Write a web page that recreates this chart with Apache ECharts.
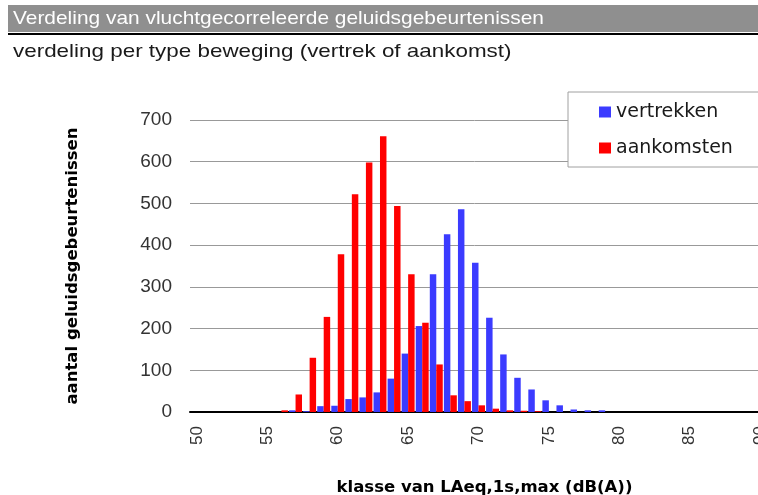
<!DOCTYPE html>
<html>
<head>
<meta charset="utf-8">
<script src="https://cdn.jsdelivr.net/npm/echarts@6/dist/echarts.min.js"></script>
<style>
html,body{margin:0;padding:0;background:#fff;}
#chart{width:758px;height:495px;}
</style>
</head>
<body>
<div id="chart"></div>
<script>
var categories = ['50','51','52','53','54','55','56','57','58','59','60','61','62','63','64','65','66','67','68','69','70','71','72','73','74','75','76','77','78','79','80','81','82','83','84','85','86','87','88','89','90'];
var vertrekken = [0,0,0,0,0,0,0,4,2,14,15,31,35,47,80,140,206,330,426,486,358,226,138,82,54,28,16,6,4,4,0,0,0,0,0,0,0,0,0,0,0];
var aankomsten = [0,0,0,0,0,0,4,42,130,228,378,522,598,661,494,330,214,114,40,26,16,8,4,3,2,0,0,0,0,0,0,0,0,0,0,0,0,0,0,0,0];
var yTicks = [0,100,200,300,400,500,600,700];

var titleText = 'Verdeling van vluchtgecorreleerde geluidsgebeurtenissen';
var subtitleText = 'verdeling per type beweging (vertrek of aankomst)';
var xName = 'klasse van LAeq,1s,max (dB(A))';
var yName = 'aantal geluidsgebeurtenissen';
var FONT = '"Liberation Sans", Arial, sans-serif';
var WIDE = '"DejaVu Sans", "Liberation Sans", sans-serif';

var chart = echarts.init(document.getElementById('chart'), null, {renderer:'canvas'});
chart.setOption({
  animation:false,
  backgroundColor:'#fff',
  textStyle:{fontFamily:FONT},
  graphic:[
    {type:'rect', shape:{x:8,y:5,width:760,height:27}, style:{fill:'#8f8f8f'}, z:10},
    {type:'rect', shape:{x:8,y:33,width:760,height:2}, style:{fill:'#000'}, z:10},
    {type:'text', x:13, y:19, scaleX:1.10, style:{text:titleText, fill:'#fff', font:'19px ' + FONT, verticalAlign:'middle'}, z:11},
    {type:'text', x:13, y:52, scaleX:1.18, style:{text:subtitleText, fill:'#1a1a1a', font:'19px ' + FONT, verticalAlign:'middle'}, z:11}
  ],
  legend:{
    orient:'vertical',
    left:568, top:92,
    backgroundColor:'#fff',
    borderColor:'#a0a0a0', borderWidth:1,
    padding:[9,80,8,31],
    itemGap:14,
    itemWidth:12, itemHeight:11,
    icon:'rect',
    textStyle:{fontSize:19, color:'#1a1a1a', lineHeight:22, fontFamily:WIDE},
    data:['vertrekken','aankomsten']
  },
  grid:{left:190, top:120, width:577, bottom:83, containLabel:false, outerBoundsMode:'none'},
  xAxis:{
    type:'category',
    data:categories,
    name:xName,
    nameLocation:'middle',
    nameGap:67,
    nameTextStyle:{fontSize:16.5, fontWeight:'bold', color:'#000', fontFamily:WIDE, padding:[0,0,0,12]},
    axisLine:{lineStyle:{color:'#000', width:2}},
    axisTick:{interval:0, length:5, lineStyle:{color:'#000', width:2}},
    axisLabel:{interval:4, rotate:90, fontSize:17, color:'#333', margin:14, fontFamily:FONT},
    splitLine:{show:false}
  },
  yAxis:{
    type:'value',
    min:yTicks[0], max:yTicks[yTicks.length-1], interval:100,
    name:yName,
    nameLocation:'middle',
    nameRotate:90,
    nameGap:109,
    nameTextStyle:{fontSize:16.5, fontWeight:'bold', color:'#000', fontFamily:WIDE},
    axisLine:{show:false},
    axisTick:{show:false},
    axisLabel:{fontSize:19, color:'#333', margin:18, fontFamily:FONT},
    splitLine:{lineStyle:{color:'#999', width:1}}
  },
  series:[
    {name:'vertrekken', type:'bar', data:vertrekken, itemStyle:{color:'#3b3bff'}, barGap:'0%', barCategoryGap:'8%'},
    {name:'aankomsten', type:'bar', data:aankomsten, itemStyle:{color:'#ff0000'}, barGap:'0%', barCategoryGap:'8%'}
  ]
});
</script>
</body>
</html>
